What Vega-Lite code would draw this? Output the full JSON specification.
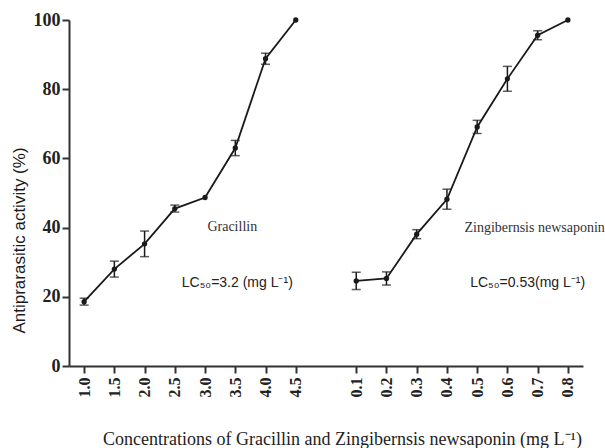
{
  "$schema": "https://vega.github.io/schema/vega-lite/v6.json",
  "width": 514,
  "height": 346,
  "autosize": "none",
  "padding": {"left": 69, "top": 20, "right": 22, "bottom": 82},
  "background": "white",
  "config": {"view": {"stroke": null}},
  "datasets": {
    "pts": [
      {"series": "Gracillin", "conc": "1.0", "y": 18.6, "lo": 17.6, "hi": 19.6},
      {"series": "Gracillin", "conc": "1.5", "y": 28.0, "lo": 25.7, "hi": 30.3},
      {"series": "Gracillin", "conc": "2.0", "y": 35.3, "lo": 31.6, "hi": 39.0},
      {"series": "Gracillin", "conc": "2.5", "y": 45.5, "lo": 44.5, "hi": 46.5},
      {"series": "Gracillin", "conc": "3.0", "y": 48.7},
      {"series": "Gracillin", "conc": "3.5", "y": 63.0, "lo": 60.8, "hi": 65.2},
      {"series": "Gracillin", "conc": "4.0", "y": 88.8, "lo": 87.2, "hi": 90.4},
      {"series": "Gracillin", "conc": "4.5", "y": 100},
      {"series": "Zingibernsis newsaponin", "conc": "0.1", "y": 24.6, "lo": 22.1, "hi": 27.1},
      {"series": "Zingibernsis newsaponin", "conc": "0.2", "y": 25.3, "lo": 23.4, "hi": 27.2},
      {"series": "Zingibernsis newsaponin", "conc": "0.3", "y": 38.1, "lo": 36.8, "hi": 39.4},
      {"series": "Zingibernsis newsaponin", "conc": "0.4", "y": 48.2, "lo": 45.3, "hi": 51.1},
      {"series": "Zingibernsis newsaponin", "conc": "0.5", "y": 69.1, "lo": 67.2, "hi": 71.0},
      {"series": "Zingibernsis newsaponin", "conc": "0.6", "y": 83.0, "lo": 79.4, "hi": 86.6},
      {"series": "Zingibernsis newsaponin", "conc": "0.7", "y": 95.6, "lo": 94.3, "hi": 96.9},
      {"series": "Zingibernsis newsaponin", "conc": "0.8", "y": 100}
    ],
    "names": [
      {"label": "Gracillin", "conc": "3.5", "y": 40.2},
      {"label": "Zingibernsis newsaponin", "conc": "0.7", "y": 40.0}
    ],
    "lc": [
      {"label": "LC₅₀=3.2  (mg L⁻¹)", "conc": "3.5", "y": 24.0}
    ],
    "lc2": [
      {"label": "LC₅₀=0.53(mg L⁻¹)", "conc": "0.7", "y": 24.0}
    ]
  },
  "encoding": {
    "x": {
      "field": "conc",
      "type": "ordinal",
      "scale": {
        "type": "point",
        "padding": 0.5,
        "domain": ["1.0", "1.5", "2.0", "2.5", "3.0", "3.5", "4.0", "4.5", " ", "0.1", "0.2", "0.3", "0.4", "0.5", "0.6", "0.7", "0.8"]
      },
      "axis": {
        "values": ["1.0", "1.5", "2.0", "2.5", "3.0", "3.5", "4.0", "4.5", "0.1", "0.2", "0.3", "0.4", "0.5", "0.6", "0.7", "0.8"],
        "labelAngle": 270,
        "labelFont": "Liberation Serif",
        "labelFontWeight": "bold",
        "labelFontSize": 16,
        "labelColor": "#222",
        "labelPadding": 4,
        "tickSize": 7,
        "tickWidth": 2,
        "tickColor": "#333",
        "domainWidth": 2,
        "domainColor": "#333",
        "grid": false,
        "title": "Concentrations of Gracillin and Zingibernsis newsaponin (mg L⁻¹)",
        "titleFont": "Liberation Serif",
        "titleFontWeight": "normal",
        "titleFontSize": 18,
        "titleColor": "#222",
        "titleX": 273,
        "titleY": 78,
        "titleAlign": "center",
        "titleBaseline": "alphabetic"
      }
    }
  },
  "layer": [
    {
      "data": {"name": "pts"},
      "mark": {"type": "line", "color": "#1a1a1a", "strokeWidth": 1.8},
      "encoding": {
        "y": {
          "field": "y",
          "type": "quantitative",
          "scale": {"domain": [0, 100], "nice": false},
          "axis": {
            "values": [0, 20, 40, 60, 80, 100],
            "labelFont": "Liberation Serif",
            "labelFontWeight": "bold",
            "labelFontSize": 18,
            "labelColor": "#222",
            "labelPadding": 2,
            "tickSize": 7,
            "tickWidth": 2,
            "tickColor": "#333",
            "domainWidth": 2,
            "domainColor": "#333",
            "grid": false,
            "title": "Antiprarasitic  activity (%)",
            "titleFont": "Liberation Sans",
            "titleFontWeight": "normal",
            "titleFontSize": 17,
            "titleColor": "#1a1a1a",
            "titleAngle": 270,
            "titleX": -50,
            "titleY": 220,
            "titleAlign": "center",
            "titleBaseline": "middle"
          }
        },
        "detail": {"field": "series"}
      }
    },
    {
      "data": {"name": "pts"},
      "transform": [{"filter": "isValid(datum.lo)"}],
      "mark": {"type": "rule", "color": "#1a1a1a", "strokeWidth": 1.5},
      "encoding": {
        "y": {"field": "lo", "type": "quantitative"},
        "y2": {"field": "hi"}
      }
    },
    {
      "data": {"name": "pts"},
      "transform": [{"filter": "isValid(datum.lo)"}],
      "mark": {"type": "tick", "color": "#1a1a1a", "size": 9, "thickness": 1.5, "orient": "horizontal"},
      "encoding": {"y": {"field": "lo", "type": "quantitative"}}
    },
    {
      "data": {"name": "pts"},
      "transform": [{"filter": "isValid(datum.lo)"}],
      "mark": {"type": "tick", "color": "#1a1a1a", "size": 9, "thickness": 1.5, "orient": "horizontal"},
      "encoding": {"y": {"field": "hi", "type": "quantitative"}}
    },
    {
      "data": {"name": "pts"},
      "mark": {"type": "point", "filled": true, "color": "#1a1a1a", "size": 28, "opacity": 1},
      "encoding": {"y": {"field": "y", "type": "quantitative"}}
    },
    {
      "data": {"name": "names"},
      "mark": {"type": "text", "font": "Liberation Serif", "fontSize": 14, "color": "#333", "align": "center", "baseline": "middle", "dx": -3},
      "encoding": {
        "y": {"field": "y", "type": "quantitative"},
        "text": {"field": "label"}
      }
    },
    {
      "data": {"name": "lc"},
      "mark": {"type": "text", "font": "Liberation Sans", "fontSize": 14, "color": "#222", "align": "center", "baseline": "middle", "dx": 2},
      "encoding": {
        "y": {"field": "y", "type": "quantitative"},
        "text": {"field": "label"}
      }
    },
    {
      "data": {"name": "lc2"},
      "mark": {"type": "text", "font": "Liberation Sans", "fontSize": 14, "color": "#222", "align": "center", "baseline": "middle", "dx": -10},
      "encoding": {
        "y": {"field": "y", "type": "quantitative"},
        "text": {"field": "label"}
      }
    }
  ]
}
